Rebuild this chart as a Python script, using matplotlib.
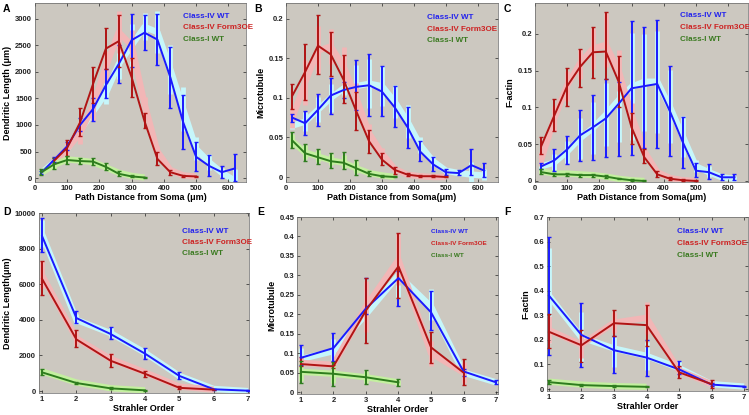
import numpy as np
import matplotlib
matplotlib.use("Agg")
import matplotlib.pyplot as plt

plt.rcParams['font.family'] = ['Liberation Sans', 'DejaVu Sans']
plt.rcParams['font.weight'] = 'bold'

# ---------------- data ----------------
dist_iv = [20, 60, 100, 140, 180, 220, 260, 300, 340, 380, 420, 460, 500, 540, 580, 620]
dist_oe = [60, 100, 140, 180, 220, 260, 300, 340, 380, 420, 460, 500]
dist_i = [20, 60, 100, 140, 180, 220, 260, 300, 340]

# A: dendritic length vs path distance
a_iv = [100, 350, 600, 1000, 1300, 1750, 2150, 2600, 2740, 2610, 1900, 1050, 400, 230, 110, 180]
a_iv_lo = [70, 300, 520, 880, 1080, 1500, 1800, 2100, 2420, 2130, 1320, 540, 130, 40, 0, -60]
a_iv_hi = [140, 400, 680, 1130, 1500, 2050, 2500, 3100, 3070, 3100, 2470, 1560, 680, 430, 230, 450]
a_oe = [330, 570, 1050, 1770, 2440, 2580, 1900, 1070, 360, 110, 40, 30]
a_oe_lo = [280, 420, 800, 1420, 2050, 2100, 1530, 940, 240, 50, 20, 15]
a_oe_hi = [380, 720, 1320, 2090, 2820, 3070, 2270, 1230, 500, 160, 60, 45]
a_i = [110, 260, 340, 320, 310, 210, 80, 30, 10]
a_i_lo = [50, 170, 270, 260, 250, 150, 40, 10, 0]
a_i_hi = [170, 380, 410, 380, 370, 280, 130, 60, 20]
a_iv_sh = [100, 300, 550, 900, 1250, 1600, 2150, 2500, 2850, 2750, 2050, 1300, 550, 300, 100, -50]
a_oe_sh = [300, 550, 850, 1350, 2100, 2750, 2500, 1400, 500, 150, 50, 30]
a_i_sh = [100, 250, 350, 330, 300, 200, 100, 40, 10]

# B: microtubule vs path distance
dist_oe2 = [20, 60, 100, 140, 180, 220, 260, 300, 340, 380, 420, 460, 500]
b_iv = [0.075, 0.068, 0.085, 0.103, 0.110, 0.114, 0.116, 0.108, 0.088, 0.063, 0.032, 0.016, 0.006, 0.005, 0.015, 0.008]
b_iv_lo = [0.070, 0.053, 0.065, 0.080, 0.100, 0.085, 0.077, 0.077, 0.063, 0.037, 0.020, 0.008, 0.002, 0.002, 0.002, 0.000]
b_iv_hi = [0.080, 0.083, 0.105, 0.125, 0.120, 0.148, 0.155, 0.140, 0.115, 0.089, 0.046, 0.025, 0.010, 0.009, 0.035, 0.018]
b_oe = [0.103, 0.133, 0.166, 0.155, 0.123, 0.083, 0.045, 0.022, 0.009, 0.003, 0.001, 0.001, 0.000]
b_oe_lo = [0.086, 0.097, 0.130, 0.128, 0.094, 0.060, 0.030, 0.015, 0.004, 0.001, 0.000, 0.000, 0.000]
b_oe_hi = [0.118, 0.168, 0.205, 0.183, 0.154, 0.107, 0.060, 0.030, 0.013, 0.005, 0.002, 0.002, 0.001]
b_i = [0.046, 0.030, 0.025, 0.020, 0.018, 0.011, 0.004, 0.001, 0.000]
b_i_lo = [0.037, 0.020, 0.017, 0.012, 0.010, 0.003, 0.001, 0.000, 0.000]
b_i_hi = [0.057, 0.042, 0.035, 0.030, 0.031, 0.022, 0.007, 0.002, 0.001]
b_iv_sh = [0.065, 0.070, 0.085, 0.100, 0.112, 0.115, 0.118, 0.115, 0.095, 0.070, 0.040, 0.020, 0.008, 0.005, 0.003, 0.002]
b_oe_sh = [0.075, 0.120, 0.160, 0.165, 0.140, 0.100, 0.055, 0.030, 0.010, 0.003, 0.001, 0.000, 0.000]
b_i_sh = [0.045, 0.031, 0.026, 0.021, 0.018, 0.011, 0.005, 0.002, 0.000]

# C: F-actin vs path distance
c_iv = [0.020, 0.028, 0.043, 0.062, 0.073, 0.085, 0.105, 0.126, 0.129, 0.132, 0.094, 0.052, 0.014, 0.012, 0.005, 0.005]
c_iv_lo = [0.016, 0.013, 0.023, 0.027, 0.029, 0.032, 0.034, 0.035, 0.045, 0.045, 0.034, 0.018, 0.005, 0.003, 0.001, 0.001]
c_iv_hi = [0.024, 0.043, 0.061, 0.097, 0.117, 0.139, 0.135, 0.217, 0.210, 0.219, 0.157, 0.087, 0.025, 0.023, 0.010, 0.010]
c_oe = [0.048, 0.089, 0.129, 0.155, 0.175, 0.176, 0.135, 0.073, 0.032, 0.009, 0.003, 0.001, 0.000]
c_oe_lo = [0.036, 0.068, 0.102, 0.128, 0.140, 0.138, 0.100, 0.050, 0.024, 0.005, 0.001, 0.000, 0.000]
c_oe_hi = [0.060, 0.111, 0.153, 0.180, 0.210, 0.230, 0.170, 0.093, 0.044, 0.013, 0.005, 0.002, 0.001]
c_i = [0.012, 0.009, 0.009, 0.008, 0.008, 0.006, 0.003, 0.001, 0.000]
c_i_lo = [0.009, 0.007, 0.007, 0.006, 0.006, 0.004, 0.002, 0.000, 0.000]
c_i_hi = [0.016, 0.011, 0.011, 0.010, 0.010, 0.008, 0.004, 0.002, 0.001]
c_iv_sh = [0.020, 0.025, 0.040, 0.058, 0.072, 0.090, 0.110, 0.128, 0.135, 0.135, 0.100, 0.060, 0.020, 0.012, 0.005, 0.003]
c_oe_sh = [0.030, 0.085, 0.130, 0.160, 0.180, 0.185, 0.150, 0.090, 0.040, 0.012, 0.004, 0.001, 0.000]
c_i_sh = [0.013, 0.010, 0.010, 0.009, 0.008, 0.006, 0.003, 0.001, 0.000]

# Strahler order panels
ord_iv = [1, 2, 3, 4, 5, 6, 7]
ord_oe = [1, 2, 3, 4, 5, 6]
ord_i = [1, 2, 3, 4]

d_iv = [8700, 4100, 3200, 2100, 850, 100, 20]
d_iv_lo = [7800, 3800, 2900, 1800, 650, 60, 0]
d_iv_hi = [9700, 4500, 3600, 2400, 1050, 140, 40]
d_oe = [6300, 2900, 1700, 970, 180, 80]
d_oe_lo = [5400, 2450, 1350, 800, 100, 40]
d_oe_hi = [7300, 3450, 2100, 1150, 260, 120]
d_i = [1050, 450, 150, 40]
d_i_lo = [900, 380, 90, 20]
d_i_hi = [1250, 530, 200, 60]
d_iv_sh = [8800, 4000, 3250, 2150, 850, 120, 0]
d_oe_sh = [6500, 2950, 1800, 1050, 250, 80]
d_i_sh = [1100, 480, 160, 40]

e_iv = [0.088, 0.113, 0.215, 0.293, 0.205, 0.053, 0.025]
e_iv_lo = [0.070, 0.080, 0.200, 0.222, 0.160, 0.040, 0.020]
e_iv_hi = [0.122, 0.152, 0.293, 0.310, 0.260, 0.060, 0.030]
e_oe = [0.072, 0.066, 0.210, 0.323, 0.115, 0.050]
e_oe_lo = [0.067, 0.062, 0.127, 0.242, 0.075, 0.018]
e_oe_hi = [0.090, 0.070, 0.292, 0.410, 0.155, 0.085]
e_i = [0.052, 0.047, 0.038, 0.025]
e_i_lo = [0.022, 0.016, 0.020, 0.016]
e_i_hi = [0.080, 0.077, 0.057, 0.034]
e_iv_sh = [0.085, 0.105, 0.200, 0.300, 0.220, 0.050, 0.025]
e_oe_sh = [0.075, 0.070, 0.220, 0.340, 0.100, 0.050]
e_i_sh = [0.052, 0.047, 0.038, 0.025]

f_iv = [0.380, 0.220, 0.158, 0.128, 0.080, 0.018, 0.010]
f_iv_lo = [0.140, 0.090, 0.065, 0.055, 0.060, 0.012, 0.007]
f_iv_hi = [0.620, 0.350, 0.215, 0.200, 0.115, 0.024, 0.013]
f_oe = [0.233, 0.178, 0.268, 0.260, 0.068, 0.020]
f_oe_lo = [0.165, 0.110, 0.215, 0.175, 0.045, 0.005]
f_oe_hi = [0.305, 0.240, 0.320, 0.342, 0.093, 0.035]
f_i = [0.028, 0.016, 0.012, 0.009]
f_i_lo = [0.020, 0.012, 0.009, 0.007]
f_i_hi = [0.035, 0.020, 0.015, 0.011]
f_iv_sh = [0.380, 0.210, 0.165, 0.135, 0.085, 0.020, 0.010]
f_oe_sh = [0.240, 0.180, 0.270, 0.290, 0.075, 0.020]
f_i_sh = [0.030, 0.018, 0.012, 0.009]

legend_labels = ['Class-IV WT', 'Class-IV Form3OE', 'Class-I WT']

# ---------------- style ----------------
BG = '#ccc8c0'
COL = ['#1a1aff', '#b01414', '#2e7d1e']
SHADE = ['#c6f6fa', '#f2b6b6', '#c4f0a0']
TXT = ['#2222ee', '#cc2222', '#3a7a20']

W, H = 749, 415
fig = plt.figure(figsize=(W / 100, H / 100), dpi=100)


def make_ax(l, r, t, b):
    return fig.add_axes([l / W, 1 - b / H, (r - l) / W, (b - t) / H])


def series(ax, x, y, lo, hi, sh, k):
    y = np.asarray(y); lo = np.asarray(lo); hi = np.asarray(hi); sh = np.asarray(sh)
    # pale shadow curve with pale error bars
    ax.plot(x, sh, color=SHADE[k], lw=4.5, solid_capstyle='butt', zorder=1)
    ax.vlines(x, sh - 0.8 * (y - lo), sh + 0.8 * (hi - y), color=SHADE[k], lw=3.5, zorder=1)
    ax.errorbar(x, y, yerr=[y - lo, hi - y], color=COL[k], lw=1.4, elinewidth=1.4,
                capsize=1.5, capthick=1.0, zorder=3)


def style(ax, xlim, ylim, xticks, yticks, yticklabels, xlabel, ylabel, legpos, legfs=5.8, legdy=0.066):
    ax.set_facecolor(BG)
    ax.set_xlim(*xlim)
    ax.set_ylim(*ylim)
    ax.set_xticks(xticks)
    ax.set_yticks(yticks)
    ax.set_yticklabels(yticklabels)
    ax.tick_params(direction='in', top=True, right=True, length=2, width=0.5,
                   labelsize=5.5, pad=2, colors='#222222')
    for lab in ax.get_xticklabels() + ax.get_yticklabels():
        lab.set_fontweight('bold')
    for s in ax.spines.values():
        s.set_linewidth(0.5)
        s.set_color('#666666')
    ax.set_xlabel(xlabel, fontsize=6.5, fontweight='bold', labelpad=1)
    ax.set_ylabel(ylabel, fontsize=6.5, fontweight='bold', labelpad=2)
    for i, lab in enumerate(legend_labels):
        ax.text(legpos[0], legpos[1] - i * legdy, lab, transform=ax.transAxes,
                color=TXT[i], fontsize=legfs, fontweight='bold', va='center', ha='left')


# A
axA = make_ax(35, 246, 3, 182)
series(axA, dist_iv, a_iv, a_iv_lo, a_iv_hi, a_iv_sh, 0)
series(axA, dist_oe, a_oe, a_oe_lo, a_oe_hi, a_oe_sh, 1)
series(axA, dist_i, a_i, a_i_lo, a_i_hi, a_i_sh, 2)
style(axA, (0, 655), (-75, 3300), [0, 100, 200, 300, 400, 500, 600],
      [0, 500, 1000, 1500, 2000, 2500, 3000], ['0', '500', '1000', '1500', '2000', '2500', '3000'],
      'Path Distance from Soma (\u03bcm)', 'Dendritic Length (\u03bcm)', (0.70, 0.927))

# B
axB = make_ax(286, 498, 3, 182)
series(axB, dist_iv, b_iv, b_iv_lo, b_iv_hi, b_iv_sh, 0)
series(axB, dist_oe2, b_oe, b_oe_lo, b_oe_hi, b_oe_sh, 1)
series(axB, dist_i, b_i, b_i_lo, b_i_hi, b_i_sh, 2)
style(axB, (0, 663), (-0.0063, 0.22), [0, 100, 200, 300, 400, 500, 600],
      [0, 0.05, 0.1, 0.15, 0.2], ['0', '0.05', '0.1', '0.15', '0.2'],
      'Path Distance from Soma(\u03bcm)', 'Microtubule', (0.665, 0.92))

# C
axC = make_ax(535, 748, 3, 182)
series(axC, dist_iv, c_iv, c_iv_lo, c_iv_hi, c_iv_sh, 0)
series(axC, dist_oe2, c_oe, c_oe_lo, c_oe_hi, c_oe_sh, 1)
series(axC, dist_i, c_i, c_i_lo, c_i_hi, c_i_sh, 2)
style(axC, (0, 662), (-0.0014, 0.242), [0, 100, 200, 300, 400, 500, 600],
      [0, 0.05, 0.1, 0.15, 0.2], ['0', '0.05', '0.1', '0.15', '0.2'],
      'Path Distance from Soma(\u03bcm)', 'F-actin', (0.68, 0.93))

# D
axD = make_ax(39, 249, 213, 393)
series(axD, ord_iv, d_iv, d_iv_lo, d_iv_hi, d_iv_sh, 0)
series(axD, ord_oe, d_oe, d_oe_lo, d_oe_hi, d_oe_sh, 1)
series(axD, ord_i, d_i, d_i_lo, d_i_hi, d_i_sh, 2)
style(axD, (0.91, 7.03), (-110, 10000), [1, 2, 3, 4, 5, 6, 7],
      [0, 2000, 4000, 6000, 8000, 10000], ['0', '2000', '4000', '6000', '8000', '10000'],
      'Strahler Order', 'Dendritic Length(\u03bcm)', (0.68, 0.90), legdy=0.062)

# E
axE = make_ax(297, 498, 217, 394)
series(axE, ord_iv, e_iv, e_iv_lo, e_iv_hi, e_iv_sh, 0)
series(axE, ord_oe, e_oe, e_oe_lo, e_oe_hi, e_oe_sh, 1)
series(axE, ord_i, e_i, e_i_lo, e_i_hi, e_i_sh, 2)
style(axE, (0.88, 7.06), (-0.005, 0.45), [1, 2, 3, 4, 5, 6, 7],
      [0, 0.05, 0.1, 0.15, 0.2, 0.25, 0.3, 0.35, 0.4, 0.45],
      ['0', '0.05', '0.1', '0.15', '0.2', '0.25', '0.3', '0.35', '0.4', '0.45'],
      'Strahler Order', 'Microtubule', (0.667, 0.92), legfs=4.6, legdy=0.068)

# F
axF = make_ax(547, 748, 217, 391)
series(axF, ord_iv, f_iv, f_iv_lo, f_iv_hi, f_iv_sh, 0)
series(axF, ord_oe, f_oe, f_oe_lo, f_oe_hi, f_oe_sh, 1)
series(axF, ord_i, f_i, f_i_lo, f_i_hi, f_i_sh, 2)
style(axF, (0.94, 7.12), (-0.008, 0.7), [1, 2, 3, 4, 5, 6, 7],
      [0, 0.1, 0.2, 0.3, 0.4, 0.5, 0.6, 0.7], ['0', '0.1', '0.2', '0.3', '0.4', '0.5', '0.6', '0.7'],
      'Strahler Order', 'F-actin', (0.647, 0.914), legdy=0.068)

# panel letters
for lab, px, py in [('A', 3, 9), ('B', 254, 9), ('C', 504, 9),
                    ('D', 3, 212), ('E', 257, 212), ('F', 504, 212)]:
    fig.text(px / W, 1 - py / H, lab, fontsize=7.5, fontweight='bold', va='center', ha='left')

fig.savefig('out.png', dpi=100, facecolor='white')
